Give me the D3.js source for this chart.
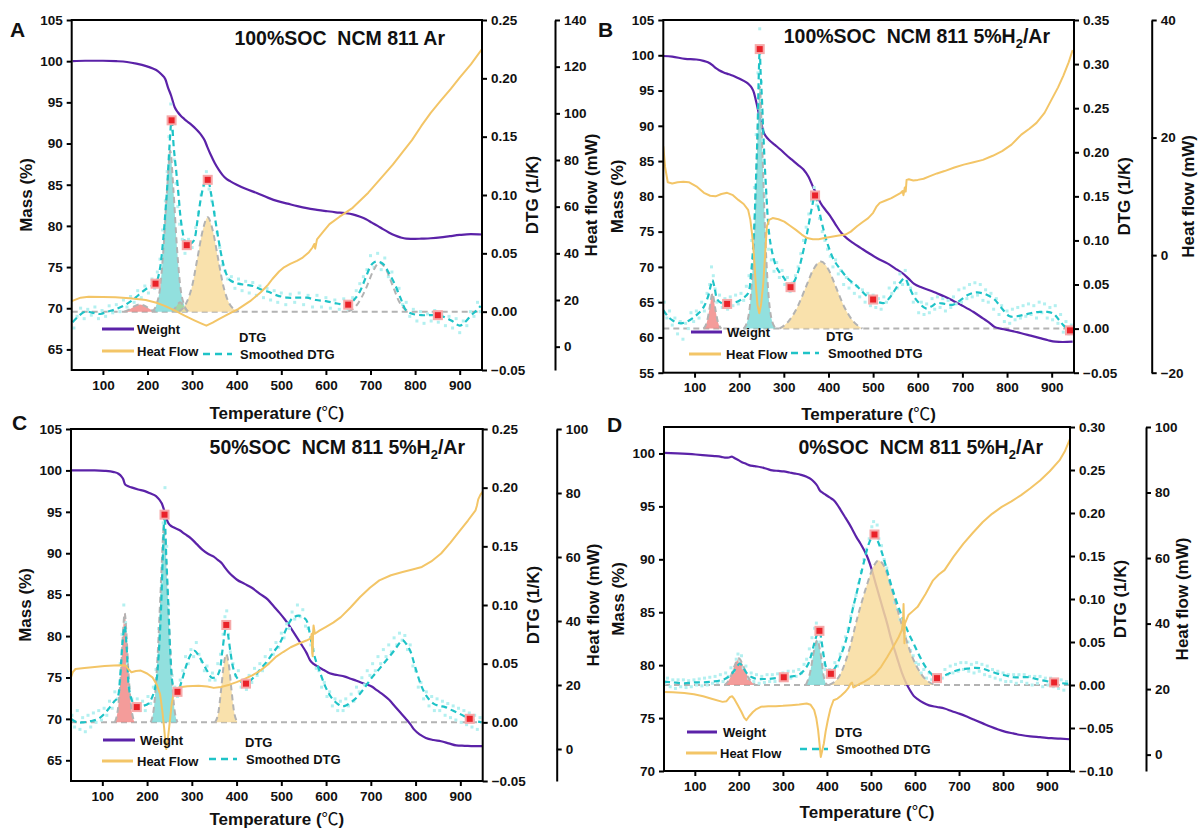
<!DOCTYPE html>
<html>
<head>
<meta charset="utf-8">
<script src="https://cdn.jsdelivr.net/npm/d3@7"></script>
<style>
  body { margin: 0; background: #fff; }
  svg { display: block; font-family: "Liberation Sans", Arial, "Noto Sans CJK SC", sans-serif; }
</style>
</head>
<body>
<svg id="chart" width="1200" height="833"></svg>
<script>
// ---------- shared ticks ----------
const temperatureTicks = [100, 200, 300, 400, 500, 600, 700, 800, 900];

// ---------- Panel A : 100%SOC NCM 811 Ar ----------
const massTicksA = [65, 70, 75, 80, 85, 90, 95, 100, 105];
const dtgTicksA = [-0.05, 0, 0.05, 0.10, 0.15, 0.20, 0.25];
const heatTicksA = [0, 20, 40, 60, 80, 100, 120, 140];
const weightA = [[32,100],[60,100.05],[100,100.05],[130,100.0],[154,99.9],[175,99.7],[197,99.4],[212,99.1],[223,98.8],[231,98.4],[240,97.8],[246,96.8],[253,95.8],[261,94.4],[268,93.8],[274,93.4],[282,93.0],[291,92.6],[300,92.2],[308,91.8],[315,91.4],[321,91.0],[328,90.4],[334,89.6],[342,88.6],[351,87.6],[360,86.8],[368,86.2],[377,85.7],[386,85.4],[400,85.0],[420,84.5],[445,84.0],[471,83.4],[492,83.0],[514,82.7],[536,82.4],[557,82.15],[580,81.95],[600,81.8],[622,81.65],[643,81.55],[660,81.4],[677,81.1],[690,80.8],[703,80.4],[716,80.0],[728,79.6],[741,79.2],[754,78.85],[767,78.6],[780,78.45],[800,78.42],[814,78.45],[835,78.5],[857,78.6],[878,78.75],[900,78.9],[925,79.0],[950,78.95]];
const heatA = [[30,19.5],[50,21.0],[68,21.4],[100,21.3],[128,21.2],[160,20.8],[196,20.0],[220,18.8],[240,17.4],[262,15.4],[283,13.3],[305,11.3],[320,10.0],[332,9.0],[346,10.3],[360,11.8],[380,13.8],[403,16.1],[430,19.5],[454,23.3],[470,26.5],[480,29.0],[495,32.2],[506,34.0],[520,35.5],[535,36.8],[548,38.2],[562,40.5],[570,42.5],[574,44.0],[576,42.0],[580,46.0],[595,49.5],[608,52.5],[630,55.6],[660,59.5],[695,66.0],[728,73.2],[750,78.0],[771,83.2],[793,88.5],[814,94.6],[835,100.2],[857,105.3],[880,110.5],[900,115.3],[925,121.0],[950,127.5]];
const smoothA = [[32,-0.009],[45,-0.004],[60,0.0],[78,-0.001],[94,-0.002],[110,0.0],[128,0.002],[146,0.005],[163,0.009],[176,0.013],[188,0.017],[203,0.021],[218,0.024],[227,0.035],[235,0.061],[240,0.085],[244,0.106],[249,0.14],[254,0.164],[259,0.14],[265,0.118],[270,0.098],[274,0.081],[281,0.064],[288,0.057],[296,0.058],[304,0.061],[312,0.078],[321,0.1],[328,0.11],[335,0.113],[343,0.1],[351,0.081],[360,0.06],[368,0.044],[376,0.033],[385,0.027],[395,0.025],[403,0.024],[420,0.023],[437,0.022],[455,0.019],[471,0.017],[490,0.014],[514,0.012],[535,0.012],[557,0.012],[578,0.01],[600,0.009],[625,0.007],[650,0.006],[665,0.011],[677,0.018],[690,0.03],[700,0.039],[707,0.042],[715,0.043],[728,0.041],[740,0.034],[754,0.024],[767,0.012],[780,0.001],[795,-0.002],[814,-0.003],[830,-0.003],[851,-0.003],[868,-0.005],[883,-0.008],[900,-0.012],[912,-0.009],[926,-0.003],[938,0.001],[947,0.005]];
const rawA = [[35,-0.014],[42,-0.004],[50,0.003],[58,-0.006],[66,0.002],[74,-0.003],[82,0.004],[90,-0.006],[98,0.001],[106,-0.004],[114,0.005],[122,-0.001],[130,0.006],[138,0.0],[146,0.01],[154,0.004],[162,0.013],[170,0.008],[178,0.018],[186,0.012],[194,0.022],[202,0.016],[210,0.028],[216,0.02],[222,0.034],[228,0.045],[234,0.07],[240,0.095],[244,0.12],[248,0.15],[252,0.178],[256,0.155],[260,0.13],[264,0.11],[268,0.09],[272,0.075],[278,0.062],[284,0.05],[292,0.062],[300,0.055],[308,0.072],[314,0.085],[320,0.1],[326,0.108],[332,0.12],[338,0.105],[344,0.095],[350,0.085],[356,0.068],[362,0.055],[368,0.04],[374,0.035],[380,0.028],[388,0.03],[396,0.02],[404,0.028],[412,0.018],[420,0.026],[428,0.016],[436,0.025],[444,0.014],[452,0.022],[460,0.012],[468,0.02],[476,0.01],[484,0.018],[492,0.008],[500,0.016],[510,0.006],[520,0.015],[530,0.008],[540,0.016],[550,0.006],[560,0.014],[570,0.004],[580,0.014],[590,0.004],[600,0.012],[610,0.003],[620,0.01],[630,0.002],[640,0.011],[650,0.002],[660,0.012],[668,0.018],[676,0.024],[684,0.03],[692,0.036],[700,0.048],[708,0.038],[716,0.05],[724,0.036],[732,0.046],[740,0.03],[748,0.034],[756,0.018],[764,0.02],[772,0.006],[780,0.008],[788,-0.004],[796,0.002],[804,-0.008],[812,0.0],[820,-0.01],[828,-0.002],[836,-0.008],[844,0.001],[852,-0.009],[860,-0.002],[868,-0.012],[876,-0.004],[884,-0.014],[892,-0.006],[900,-0.018],[908,-0.008],[916,-0.012],[924,0.0],[932,-0.004],[940,0.008],[946,0.0]];
const markersA = [[218,0.024],[254,0.164],[288,0.057],[335,0.113],[650,0.006],[851,-0.003]];
const peakRedA = [[148,0],[160,0.002],[170,0.0045],[183,0.0062],[196,0.0045],[206,0.002],[218,0]];
const peakCyanA = [[210,0],[220,0.006],[228,0.02],[236,0.055],[244,0.105],[251,0.138],[258,0.105],[266,0.055],[274,0.02],[282,0.006],[292,0]];
const peakGreenA = [[255,0],[262,0.003],[268,0.0065],[273,0.008],[278,0.0065],[284,0.003],[290,0]];
const peakYellowA = [[270,0],[285,0.006],[300,0.022],[312,0.046],[324,0.07],[335,0.081],[346,0.07],[358,0.046],[370,0.022],[385,0.006],[405,0]];
const peakOpenA = [[650,0],[670,0.006],[690,0.02],[705,0.034],[720,0.042],[735,0.036],[750,0.022],[765,0.008],[785,0]];

// ---------- Panel B : 100%SOC NCM 811 5%H2/Ar ----------
const massTicksB = [55, 60, 65, 70, 75, 80, 85, 90, 95, 100, 105];
const dtgTicksB = [-0.05, 0, 0.05, 0.10, 0.15, 0.20, 0.25, 0.30, 0.35];
const heatTicksB = [-20, 0, 20, 40];
const weightB = [[30,99.9],[50,99.8],[79,99.5],[104,99.4],[120,99.2],[130,99.0],[140,98.6],[147,98.2],[156,97.85],[164,97.6],[177,97.3],[190,97.0],[203,96.6],[215,96.2],[222,95.85],[228,95.4],[233,94.7],[237,93.7],[241,92.6],[245,91.4],[250,90.2],[254,89.2],[260,88.5],[267,88.0],[280,87.3],[293,86.6],[305,85.9],[318,85.2],[331,84.5],[344,83.8],[355,82.8],[365,81.4],[374,80.2],[382,79.1],[393,78.1],[404,77.2],[416,76.0],[429,74.8],[442,74.0],[455,73.4],[472,72.7],[489,72.0],[510,71.2],[532,70.5],[549,69.8],[566,69.1],[580,68.3],[592,67.6],[608,67.1],[626,66.7],[643,66.25],[660,65.8],[682,65.1],[703,64.4],[725,63.6],[746,62.7],[760,62.1],[772,61.5],[785,61.25],[797,61.1],[815,60.85],[832,60.6],[853,60.25],[874,59.9],[892,59.6],[908,59.4],[925,59.35],[947,59.4]];
const heatB = [[30,18.5],[34,15.0],[40,12.4],[50,12.2],[62,12.4],[75,12.5],[87,12.4],[104,11.7],[121,10.6],[135,10.1],[147,10.0],[160,10.4],[173,10.6],[186,10.2],[198,9.4],[210,8.7],[220,7.7],[225,6.0],[229,3.5],[233,0.0],[237,-4.8],[241,-8.5],[245,-9.9],[249,-8.4],[254,-4.8],[258,0.0],[262,4.9],[267,6.0],[275,6.3],[288,6.1],[301,5.7],[314,5.0],[327,4.3],[340,3.5],[352,2.9],[365,2.7],[378,2.7],[391,2.9],[404,3.1],[420,3.3],[438,3.5],[450,4.0],[464,4.9],[476,5.6],[489,6.3],[500,7.2],[508,8.3],[515,8.9],[528,9.3],[541,9.7],[555,10.3],[562,10.6],[566,10.9],[568,10.2],[571,11.5],[573,10.8],[575,12.8],[580,12.9],[590,12.7],[600,12.8],[613,13.0],[626,13.4],[643,13.9],[660,14.3],[682,14.9],[703,15.4],[725,15.8],[746,16.2],[768,16.9],[789,17.7],[810,18.8],[832,20.5],[850,21.5],[866,22.5],[884,24.2],[900,26.5],[914,28.5],[926,30.5],[938,32.8],[947,34.9]];
const smoothB = [[30,0.021],[40,0.014],[49,0.010],[60,0.007],[70,0.006],[83,0.008],[96,0.012],[110,0.018],[121,0.025],[130,0.036],[136,0.048],[140,0.055],[145,0.046],[151,0.033],[160,0.029],[173,0.028],[186,0.029],[198,0.031],[210,0.035],[220,0.04],[227,0.065],[233,0.108],[237,0.16],[241,0.222],[244,0.29],[246,0.317],[248,0.29],[251,0.26],[254,0.222],[260,0.16],[267,0.108],[275,0.084],[284,0.069],[293,0.062],[301,0.057],[308,0.051],[315,0.047],[323,0.053],[331,0.063],[340,0.08],[352,0.108],[362,0.135],[370,0.151],[378,0.136],[387,0.116],[398,0.096],[412,0.078],[430,0.065],[447,0.055],[460,0.05],[472,0.044],[486,0.037],[500,0.033],[512,0.03],[524,0.029],[537,0.035],[549,0.044],[560,0.052],[571,0.057],[581,0.047],[592,0.036],[605,0.028],[618,0.023],[630,0.025],[643,0.029],[660,0.028],[678,0.027],[695,0.032],[712,0.038],[730,0.041],[746,0.04],[760,0.037],[772,0.033],[790,0.022],[806,0.014],[822,0.014],[840,0.016],[857,0.018],[874,0.019],[890,0.019],[904,0.017],[916,0.01],[926,0.004],[941,-0.002]];
const rawB = [[32,0.03],[38,0.012],[44,0.02],[50,0.004],[56,0.012],[62,-0.006],[68,0.008],[74,-0.012],[80,0.006],[86,0.0],[92,0.018],[98,0.008],[104,0.02],[110,0.012],[116,0.03],[122,0.02],[128,0.04],[134,0.05],[138,0.07],[142,0.06],[146,0.045],[150,0.03],[156,0.038],[162,0.024],[168,0.034],[174,0.022],[180,0.036],[186,0.026],[192,0.038],[198,0.028],[204,0.04],[210,0.032],[216,0.048],[222,0.06],[228,0.1],[234,0.16],[238,0.22],[242,0.29],[246,0.34],[250,0.28],[254,0.2],[258,0.15],[262,0.11],[266,0.09],[272,0.078],[278,0.065],[284,0.075],[290,0.058],[296,0.066],[302,0.05],[308,0.058],[314,0.042],[320,0.052],[326,0.06],[332,0.07],[338,0.085],[344,0.1],[350,0.115],[356,0.13],[362,0.145],[368,0.16],[374,0.14],[380,0.125],[386,0.11],[392,0.1],[398,0.09],[404,0.082],[410,0.07],[416,0.078],[422,0.062],[428,0.066],[434,0.05],[440,0.058],[446,0.046],[452,0.052],[458,0.04],[464,0.048],[470,0.036],[476,0.044],[482,0.03],[488,0.04],[494,0.026],[500,0.038],[506,0.024],[512,0.034],[518,0.022],[524,0.036],[530,0.03],[536,0.046],[542,0.04],[548,0.052],[554,0.046],[560,0.062],[566,0.05],[572,0.066],[578,0.05],[584,0.046],[590,0.03],[596,0.04],[602,0.018],[608,0.03],[614,0.016],[620,0.028],[626,0.018],[632,0.034],[638,0.022],[644,0.036],[650,0.024],[656,0.034],[662,0.02],[668,0.032],[674,0.024],[680,0.036],[686,0.028],[692,0.044],[698,0.03],[704,0.046],[710,0.034],[716,0.05],[722,0.036],[728,0.052],[734,0.038],[740,0.05],[746,0.032],[752,0.044],[758,0.03],[764,0.04],[770,0.022],[776,0.034],[782,0.016],[788,0.026],[794,0.008],[800,0.02],[806,0.006],[812,0.022],[818,0.01],[824,0.024],[830,0.012],[836,0.026],[842,0.014],[848,0.028],[854,0.016],[860,0.026],[866,0.012],[872,0.03],[878,0.018],[884,0.028],[890,0.012],[896,0.024],[902,0.01],[908,0.026],[914,0.006],[920,0.016],[926,-0.004],[932,0.008],[938,-0.006],[944,0.004]];
const markersB = [[173,0.028],[246,0.317],[315,0.047],[370,0.151],[500,0.033],[941,-0.002]];
const peakRedB = [[120,0],[128,0.008],[134,0.024],[140,0.04],[146,0.024],[152,0.008],[160,0]];
const peakCyanB = [[210,0],[220,0.012],[228,0.05],[234,0.11],[240,0.2],[246,0.275],[252,0.2],[258,0.11],[264,0.05],[272,0.012],[282,0]];
const peakYellowB = [[290,0],[310,0.008],[330,0.024],[350,0.048],[366,0.067],[383,0.076],[400,0.067],[416,0.048],[436,0.024],[456,0.008],[476,0]];

// ---------- Panel C : 50%SOC NCM 811 5%H2/Ar ----------
const massTicksC = [65, 70, 75, 80, 85, 90, 95, 100, 105];
const dtgTicksC = [-0.05, 0, 0.05, 0.10, 0.15, 0.20, 0.25];
const heatTicksC = [0, 20, 40, 60, 80, 100];
const weightC = [[30,100.0],[60,100.0],[83,100.0],[105,99.95],[126,99.8],[136,99.6],[143,99.25],[147,98.9],[150,98.4],[155,98.15],[165,97.95],[180,97.7],[195,97.5],[208,97.2],[220,96.9],[227,96.5],[233,96.0],[238,95.2],[242,94.4],[246,93.8],[251,93.4],[260,93.1],[272,92.8],[285,92.3],[298,91.8],[311,91.1],[324,90.4],[337,89.9],[349,89.6],[358,89.2],[367,88.8],[375,88.2],[384,87.6],[392,87.2],[401,86.8],[418,86.3],[435,85.8],[452,85.1],[470,84.4],[483,83.6],[496,82.8],[508,82.0],[521,81.0],[534,79.9],[547,78.8],[556,78.0],[564,77.1],[573,76.6],[582,76.3],[595,75.9],[608,75.5],[625,75.3],[642,75.1],[655,74.85],[668,74.6],[685,74.25],[702,73.9],[715,73.4],[728,72.9],[741,72.3],[754,71.5],[767,70.7],[780,69.9],[789,69.3],[797,68.7],[810,68.1],[823,67.7],[840,67.45],[857,67.3],[874,67.05],[891,66.8],[910,66.75],[930,66.7],[950,66.7]];
const heatC = [[30,22.4],[34,24.0],[40,25.0],[60,25.3],[83,25.6],[105,25.9],[126,26.1],[140,26.2],[152,26.1],[158,25.0],[165,24.0],[175,24.4],[186,24.5],[200,23.6],[212,22.4],[222,20.0],[229,17.2],[234,12.0],[238,6.8],[241,2.0],[243,0.0],[246,2.5],[251,8.9],[255,14.0],[259,17.2],[265,18.6],[272,19.3],[290,19.6],[315,19.8],[335,19.5],[349,19.1],[365,19.4],[384,20.1],[400,20.9],[418,21.9],[435,23.0],[453,24.5],[470,26.4],[487,28.7],[504,30.3],[521,31.8],[538,32.9],[556,33.9],[566,34.6],[568,36.0],[569,30.0],[570,29.0],[571,36.5],[572,38.6],[575,36.0],[585,37.0],[599,38.1],[616,39.5],[633,41.2],[655,44.3],[676,47.5],[698,50.4],[719,52.7],[745,54.3],[771,55.3],[793,56.1],[814,56.9],[835,58.6],[857,61.1],[878,64.5],[900,68.4],[917,71.4],[934,74.6],[937,76.0],[940,78.0],[945,79.5],[950,80.4]];
const smoothC = [[30,0.003],[44,0.0],[57,0.0],[74,0.001],[91,0.003],[104,0.007],[117,0.013],[127,0.018],[134,0.021],[140,0.04],[145,0.068],[150,0.082],[155,0.06],[160,0.028],[168,0.017],[177,0.013],[190,0.014],[203,0.016],[212,0.022],[220,0.033],[226,0.058],[231,0.095],[235,0.14],[239,0.177],[243,0.14],[248,0.095],[252,0.058],[257,0.033],[262,0.027],[268,0.026],[278,0.036],[289,0.05],[298,0.058],[306,0.061],[315,0.057],[324,0.051],[334,0.044],[345,0.038],[355,0.039],[362,0.044],[368,0.06],[373,0.075],[377,0.083],[382,0.072],[387,0.058],[392,0.047],[398,0.04],[405,0.036],[413,0.034],[421,0.033],[432,0.036],[444,0.041],[457,0.047],[470,0.053],[483,0.06],[496,0.067],[508,0.077],[521,0.087],[530,0.09],[539,0.091],[547,0.09],[556,0.087],[564,0.075],[573,0.058],[586,0.043],[599,0.03],[612,0.021],[625,0.016],[634,0.014],[642,0.014],[655,0.017],[668,0.021],[685,0.029],[702,0.038],[720,0.046],[737,0.054],[754,0.062],[765,0.068],[771,0.07],[779,0.067],[788,0.061],[800,0.046],[814,0.03],[827,0.021],[840,0.016],[853,0.014],[866,0.013],[883,0.01],[900,0.007],[910,0.005],[921,0.003],[935,0.001],[947,0.0]];
const rawC = [[32,0.006],[38,-0.004],[44,0.01],[50,-0.006],[56,0.004],[62,-0.008],[68,0.006],[74,-0.004],[80,0.008],[86,0.0],[92,0.01],[98,0.002],[104,0.012],[110,0.006],[116,0.018],[122,0.012],[128,0.026],[134,0.02],[140,0.05],[144,0.075],[148,0.1],[152,0.085],[156,0.05],[160,0.03],[166,0.02],[172,0.012],[178,0.02],[184,0.01],[190,0.018],[196,0.01],[202,0.022],[208,0.016],[214,0.03],[220,0.045],[226,0.08],[232,0.12],[236,0.17],[240,0.2],[244,0.15],[248,0.1],[252,0.06],[256,0.04],[262,0.03],[268,0.022],[274,0.036],[280,0.044],[286,0.056],[292,0.05],[298,0.062],[304,0.056],[310,0.068],[316,0.058],[322,0.052],[328,0.044],[334,0.048],[340,0.036],[346,0.042],[352,0.036],[358,0.05],[364,0.058],[370,0.075],[374,0.09],[378,0.095],[382,0.075],[386,0.06],[392,0.05],[398,0.04],[404,0.044],[410,0.03],[416,0.036],[422,0.028],[428,0.04],[434,0.034],[440,0.046],[446,0.04],[452,0.05],[458,0.044],[464,0.056],[470,0.05],[476,0.062],[482,0.058],[488,0.068],[494,0.064],[500,0.076],[506,0.072],[512,0.084],[518,0.08],[524,0.094],[530,0.088],[536,0.1],[542,0.09],[548,0.096],[554,0.082],[560,0.08],[566,0.066],[572,0.062],[578,0.046],[584,0.044],[590,0.03],[596,0.034],[602,0.022],[608,0.026],[614,0.014],[620,0.02],[626,0.01],[632,0.018],[638,0.01],[644,0.02],[650,0.014],[656,0.024],[662,0.018],[668,0.03],[674,0.026],[680,0.038],[686,0.032],[692,0.044],[698,0.04],[704,0.05],[710,0.044],[716,0.056],[722,0.05],[728,0.062],[734,0.056],[740,0.066],[746,0.06],[752,0.072],[758,0.066],[764,0.076],[770,0.07],[776,0.074],[782,0.062],[788,0.066],[794,0.048],[800,0.044],[806,0.03],[812,0.034],[818,0.02],[824,0.026],[830,0.014],[836,0.022],[842,0.01],[848,0.02],[854,0.01],[860,0.018],[866,0.006],[872,0.016],[878,0.004],[884,0.014],[890,0.002],[896,0.012],[902,0.0],[908,0.01],[914,-0.002],[920,0.008],[926,-0.004],[932,0.006],[938,-0.006],[944,0.004]];
const markersC = [[177,0.013],[239,0.177],[268,0.026],[377,0.083],[421,0.033],[921,0.003]];
const peakRedC = [[128,0],[136,0.015],[142,0.045],[146,0.075],[150,0.093],[154,0.075],[158,0.045],[164,0.015],[172,0]];
const peakCyanC = [[208,0],[216,0.015],[224,0.06],[230,0.11],[238,0.167],[246,0.11],[252,0.06],[260,0.015],[268,0]];
const peakYellowC = [[352,0],[360,0.01],[366,0.03],[371,0.048],[377,0.058],[383,0.048],[388,0.03],[394,0.01],[402,0]];

// ---------- Panel D : 0%SOC NCM 811 5%H2/Ar ----------
const massTicksD = [70, 75, 80, 85, 90, 95, 100];
const dtgTicksD = [-0.10, -0.05, 0, 0.05, 0.10, 0.15, 0.20, 0.25, 0.30];
const heatTicksD = [0, 20, 40, 60, 80, 100];
const weightD = [[30,100.05],[60,100.0],[102,99.9],[125,99.82],[145,99.75],[160,99.68],[171,99.6],[178,99.62],[184,99.7],[188,99.62],[193,99.5],[200,99.35],[206,99.2],[215,99.05],[223,98.9],[236,98.8],[250,98.7],[263,98.55],[276,98.4],[290,98.35],[302,98.3],[315,98.2],[328,98.1],[341,97.98],[354,97.8],[363,97.6],[371,97.3],[378,96.95],[384,96.5],[390,96.3],[397,96.1],[406,95.85],[415,95.6],[423,95.2],[432,94.6],[441,94.0],[450,93.4],[458,92.8],[467,92.1],[476,91.5],[484,90.9],[493,90.1],[502,89.0],[510,87.8],[519,86.5],[528,85.2],[537,83.9],[545,82.6],[554,81.4],[563,80.2],[571,79.2],[580,78.3],[589,77.6],[597,77.1],[606,76.8],[619,76.45],[632,76.2],[650,76.05],[667,75.9],[684,75.65],[702,75.4],[720,75.1],[737,74.8],[754,74.5],[771,74.2],[789,73.92],[806,73.7],[823,73.55],[841,73.4],[862,73.28],[884,73.2],[910,73.1],[930,73.05],[952,73.0]];
const heatD = [[30,19.1],[50,19.0],[76,18.8],[98,18.4],[119,17.8],[140,17.0],[163,16.1],[172,16.3],[180,17.6],[185,17.8],[189,17.1],[197,15.2],[206,13.0],[212,11.3],[217,10.5],[224,11.8],[232,13.0],[240,13.9],[250,14.6],[267,14.8],[284,14.8],[300,14.9],[319,15.1],[337,15.3],[354,15.6],[363,15.2],[371,13.6],[376,11.0],[380,7.5],[383,3.5],[386,-0.7],[389,1.0],[393,3.4],[397,7.0],[402,10.5],[408,14.0],[415,16.6],[424,17.1],[432,18.0],[441,19.1],[448,20.2],[454,21.7],[457,22.0],[460,20.5],[463,20.7],[472,21.4],[484,22.2],[497,23.3],[510,24.7],[523,26.8],[537,29.8],[550,32.8],[563,35.9],[570,38.0],[573,41.0],[574,46.0],[575,40.0],[576,34.0],[577,40.0],[585,42.6],[595,43.8],[606,45.1],[624,49.0],[641,53.2],[654,55.0],[667,56.3],[688,60.5],[710,64.4],[732,67.8],[754,71.0],[775,73.5],[797,75.6],[819,77.3],[841,79.2],[862,81.3],[884,83.7],[906,86.5],[928,89.8],[940,92.5],[952,96.4]];
const smoothD = [[30,0.004],[50,0.003],[76,0.002],[98,0.003],[119,0.003],[140,0.004],[163,0.006],[175,0.009],[184,0.013],[193,0.019],[202,0.025],[210,0.02],[219,0.013],[230,0.009],[241,0.007],[255,0.007],[267,0.007],[285,0.008],[302,0.009],[320,0.01],[337,0.012],[348,0.017],[358,0.025],[365,0.036],[371,0.048],[377,0.058],[383,0.063],[388,0.05],[393,0.033],[398,0.02],[403,0.014],[409,0.013],[416,0.018],[424,0.025],[432,0.035],[441,0.048],[450,0.066],[458,0.087],[467,0.106],[476,0.126],[484,0.143],[493,0.161],[500,0.17],[508,0.175],[515,0.168],[523,0.157],[534,0.138],[545,0.118],[558,0.097],[571,0.079],[584,0.062],[597,0.048],[610,0.034],[624,0.021],[637,0.013],[650,0.008],[667,0.011],[684,0.015],[702,0.018],[719,0.019],[737,0.02],[754,0.019],[771,0.016],[789,0.013],[806,0.011],[823,0.009],[840,0.009],[858,0.009],[875,0.007],[893,0.005],[916,0.003],[935,0.002],[952,0.001]];
const rawD = [[32,0.002],[38,0.008],[44,-0.002],[50,0.006],[56,-0.004],[62,0.006],[68,-0.002],[74,0.006],[80,-0.003],[86,0.005],[92,-0.002],[98,0.006],[104,0.0],[110,0.007],[116,-0.001],[122,0.008],[128,0.0],[134,0.009],[140,0.002],[146,0.01],[152,0.003],[158,0.012],[164,0.004],[170,0.014],[176,0.01],[182,0.02],[188,0.016],[194,0.03],[198,0.036],[202,0.028],[206,0.034],[210,0.02],[216,0.022],[222,0.008],[228,0.014],[234,0.004],[240,0.012],[246,0.002],[252,0.01],[258,0.003],[264,0.012],[270,0.004],[276,0.012],[282,0.004],[288,0.013],[294,0.005],[300,0.014],[306,0.006],[312,0.016],[318,0.008],[324,0.016],[330,0.01],[336,0.018],[342,0.014],[348,0.024],[354,0.03],[360,0.042],[366,0.055],[372,0.066],[376,0.072],[380,0.06],[384,0.05],[388,0.036],[392,0.024],[396,0.018],[400,0.01],[406,0.018],[412,0.012],[418,0.026],[424,0.022],[430,0.036],[436,0.044],[442,0.056],[448,0.066],[454,0.08],[460,0.092],[466,0.104],[472,0.118],[478,0.132],[484,0.146],[490,0.158],[496,0.17],[502,0.184],[506,0.19],[510,0.178],[514,0.186],[518,0.17],[524,0.162],[530,0.146],[536,0.136],[542,0.12],[548,0.11],[554,0.096],[560,0.088],[566,0.076],[572,0.068],[578,0.056],[584,0.05],[590,0.04],[596,0.034],[602,0.026],[608,0.024],[614,0.014],[620,0.018],[626,0.008],[632,0.014],[638,0.006],[644,0.012],[650,0.004],[656,0.012],[662,0.008],[668,0.018],[674,0.012],[680,0.022],[686,0.014],[692,0.024],[698,0.016],[704,0.026],[710,0.018],[716,0.026],[722,0.016],[728,0.024],[734,0.014],[740,0.026],[746,0.016],[752,0.024],[758,0.012],[764,0.022],[770,0.01],[776,0.018],[782,0.008],[788,0.016],[794,0.006],[800,0.014],[806,0.004],[812,0.012],[818,0.004],[824,0.012],[830,0.002],[836,0.012],[842,0.004],[848,0.012],[854,0.002],[860,0.01],[866,0.0],[872,0.01],[878,0.002],[884,0.01],[890,-0.002],[896,0.008],[902,0.0],[908,0.008],[914,-0.002],[920,0.006],[926,-0.004],[932,0.006],[938,-0.006],[944,0.004]];
const markersD = [[302,0.009],[383,0.063],[409,0.013],[508,0.175],[650,0.008],[916,0.003]];
const peakRedD = [[168,0],[180,0.008],[190,0.022],[200,0.031],[210,0.022],[222,0.008],[238,0]];
const peakCyanD = [[352,0],[362,0.015],[370,0.038],[378,0.052],[386,0.035],[392,0.012],[400,0]];
const peakYellowD = [[405,0],[430,0.012],[450,0.04],[470,0.08],[490,0.115],[505,0.137],[517,0.145],[530,0.138],[548,0.11],[570,0.07],[592,0.035],[615,0.012],[645,0]];

// ---------- colours ----------
const C = {
  weight: "#5b22a8", heat: "#f3c567", smooth: "#1fc3c7", raw: "#b3f0f0",
  red: "#f28b88", cyan: "#7fdad8", yellow: "#f8dc9e", green: "#a4d49c",
  grey: "#b3b3b3", marker: "#ea2229", markerHalo: "#f6a9a9"
};

// ---------- panel layout ----------
const panels = [
  { letter: "A", letterXY: [10, 37],
    title: [["100%SOC  NCM 811 Ar"]], titleXY: [445, 50],
    box: { l: 71.7, t: 20, r: 482, b: 370 }, heatAxisX: 555, xTitleGap: 49,
    xDomain: [30, 950], massDomain: [62.5, 105], dtgDomain: [-0.05, 0.25], heatDomain: [-10, 140],
    massTicks: massTicksA, dtgTicks: dtgTicksA, heatTicks: heatTicksA,
    weight: weightA, heat: heatA, smooth: smoothA, raw: rawA, markers: markersA,
    peaks: [[peakRedA, C.red], [peakCyanA, C.cyan], [peakGreenA, C.green], [peakYellowA, C.yellow], [peakOpenA, null]],
    legend: { w: [102, 134, 329, 137], h: [102, 134, 351, 137], dtg: [239, 337], s: [203, 232, 354, 240] } },
  { letter: "B", letterXY: [598, 37],
    title: [["100%SOC  NCM 811 5%H"], ["2", "sub"], ["/Ar"]], titleXY: [1050, 48],
    box: { l: 663.3, t: 20, r: 1074, b: 372.7 }, heatAxisX: 1151.7, xTitleGap: 47,
    xDomain: [30, 950], massDomain: [55, 105], dtgDomain: [-0.05, 0.35], heatDomain: [-20, 40],
    massTicks: massTicksB, dtgTicks: dtgTicksB, heatTicks: heatTicksB,
    weight: weightB, heat: heatB, smooth: smoothB, raw: rawB, markers: markersB,
    peaks: [[peakRedB, C.red], [peakCyanB, C.cyan], [peakYellowB, C.yellow]],
    legend: { w: [691, 722, 332, 727], h: [689, 721, 354, 726], dtg: [826, 336], s: [791, 819, 353, 828] } },
  { letter: "C", letterXY: [12, 430],
    title: [["50%SOC  NCM 811 5%H"], ["2", "sub"], ["/Ar"]], titleXY: [465, 459],
    box: { l: 71, t: 429, r: 482.7, b: 781 }, heatAxisX: 556.7, xTitleGap: 44,
    xDomain: [30, 950], massDomain: [62.5, 105], dtgDomain: [-0.05, 0.25], heatDomain: [-10, 100],
    massTicks: massTicksC, dtgTicks: dtgTicksC, heatTicks: heatTicksC,
    weight: weightC, heat: heatC, smooth: smoothC, raw: rawC, markers: markersC,
    peaks: [[peakRedC, C.red], [peakCyanC, C.cyan], [peakYellowC, C.yellow]],
    legend: { w: [103, 135, 740, 140], h: [102, 133, 761, 137], dtg: [245, 742], s: [209, 237, 759, 246] } },
  { letter: "D", letterXY: [607, 432],
    title: [["0%SOC  NCM 811 5%H"], ["2", "sub"], ["/Ar"]], titleXY: [1043, 459],
    box: { l: 664, t: 427, r: 1070, b: 771 }, heatAxisX: 1146, xTitleGap: 47,
    xDomain: [30, 952], massDomain: [70, 102.5], dtgDomain: [-0.10, 0.30], heatDomain: [-5, 100],
    massTicks: massTicksD, dtgTicks: dtgTicksD, heatTicks: heatTicksD,
    weight: weightD, heat: heatD, smooth: smoothD, raw: rawD, markers: markersD,
    peaks: [[peakRedD, C.red], [peakCyanD, C.cyan], [peakYellowD, C.yellow]],
    legend: { w: [687, 717, 732, 723], h: [686, 717, 753, 720], dtg: [835, 732], s: [800, 828, 749, 836] } }
];

const svg = d3.select("#chart");
const fmtInt = d3.format("d");
const fmtDtg = d3.format(".2f");

function styleAxis(sel, keepDomain) {
  if (!keepDomain) sel.select(".domain").remove();
  else sel.select(".domain").attr("stroke", "#000").attr("stroke-width", 2);
  sel.selectAll(".tick line").attr("stroke", "#000").attr("stroke-width", 2);
  sel.selectAll(".tick text")
    .attr("font-size", 13.5).attr("font-weight", "bold").attr("fill", "#111")
    .attr("font-family", "'Liberation Sans', Arial, sans-serif");
}

function boldText(g, x, y, str, size, anchor) {
  return g.append("text").attr("x", x).attr("y", y)
    .attr("font-size", size).attr("font-weight", "bold").attr("fill", "#111")
    .attr("text-anchor", anchor || "start").text(str);
}

panels.forEach(p => {
  const g = svg.append("g").attr("class", "panel-" + p.letter);
  const b = p.box;
  const x = d3.scaleLinear().domain(p.xDomain).range([b.l, b.r]);
  const yM = d3.scaleLinear().domain(p.massDomain).range([b.b, b.t]);
  const yD = d3.scaleLinear().domain(p.dtgDomain).range([b.b, b.t]);
  const yH = d3.scaleLinear().domain(p.heatDomain).range([b.b, b.t]);

  const clipId = "clip-" + p.letter;
  g.append("clipPath").attr("id", clipId)
    .append("rect").attr("x", b.l).attr("y", b.t).attr("width", b.r - b.l).attr("height", b.b - b.t);
  const plot = g.append("g").attr("clip-path", `url(#${clipId})`);

  // zero baseline of the DTG peak fit
  plot.append("line")
    .attr("x1", b.l).attr("x2", b.r).attr("y1", yD(0)).attr("y2", yD(0))
    .attr("stroke", C.grey).attr("stroke-width", 2).attr("stroke-dasharray", "6,4");

  // mass curve
  const lineM = d3.line().x(d => x(d[0])).y(d => yM(d[1])).curve(d3.curveMonotoneX);
  plot.append("path").datum(p.weight).attr("d", lineM)
    .attr("fill", "none").attr("stroke", C.weight).attr("stroke-width", 2.2);

  // fitted DTG peaks
  const areaD = d3.area().x(d => x(d[0])).y0(yD(0)).y1(d => yD(d[1])).curve(d3.curveMonotoneX);
  const lineD = d3.line().x(d => x(d[0])).y(d => yD(d[1])).curve(d3.curveMonotoneX);
  p.peaks.forEach(([pts, col]) => {
    if (col) plot.append("path").datum(pts).attr("d", areaD).attr("fill", col).attr("fill-opacity", 0.85);
  });

  // raw DTG points
  plot.append("g").selectAll("rect").data(p.raw).join("rect")
    .attr("x", d => x(d[0]) - 1.5).attr("y", d => yD(d[1]) - 1.5)
    .attr("width", 3).attr("height", 3).attr("fill", C.raw);

  p.peaks.forEach(([pts]) => {
    plot.append("path").datum(pts).attr("d", lineD)
      .attr("fill", "none").attr("stroke", C.grey).attr("stroke-width", 2).attr("stroke-dasharray", "6,4");
  });

  // smoothed DTG
  const lineS = d3.line().x(d => x(d[0])).y(d => yD(d[1])).curve(d3.curveCatmullRom.alpha(0.5));
  plot.append("path").datum(p.smooth).attr("d", lineS)
    .attr("fill", "none").attr("stroke", C.smooth).attr("stroke-width", 2.2).attr("stroke-dasharray", "6,4");

  // heat flow
  const lineH = d3.line().x(d => x(d[0])).y(d => yH(d[1])).curve(d3.curveLinear);
  plot.append("path").datum(p.heat).attr("d", lineH)
    .attr("fill", "none").attr("stroke", C.heat).attr("stroke-width", 2).attr("stroke-linejoin", "round");

  // peak markers on the smoothed DTG
  const mk = plot.append("g");
  p.markers.forEach(d => {
    mk.append("rect").attr("x", x(d[0]) - 5).attr("y", yD(d[1]) - 5).attr("width", 10).attr("height", 10)
      .attr("fill", C.markerHalo);
    mk.append("rect").attr("x", x(d[0]) - 3).attr("y", yD(d[1]) - 3).attr("width", 6).attr("height", 6)
      .attr("fill", C.marker);
  });

  // frame
  g.append("rect").attr("x", b.l).attr("y", b.t).attr("width", b.r - b.l).attr("height", b.b - b.t)
    .attr("fill", "none").attr("stroke", "#000").attr("stroke-width", 2);

  // axes
  g.append("g").attr("transform", `translate(0,${b.b})`)
    .call(d3.axisBottom(x).tickValues(temperatureTicks).tickFormat(fmtInt).tickSize(5).tickPadding(5))
    .call(s => styleAxis(s, false));
  g.append("g").attr("transform", `translate(${b.l},0)`)
    .call(d3.axisLeft(yM).tickValues(p.massTicks).tickFormat(fmtInt).tickSize(5).tickPadding(4))
    .call(s => styleAxis(s, false));
  g.append("g").attr("transform", `translate(${b.r},0)`)
    .call(d3.axisRight(yD).tickValues(p.dtgTicks).tickFormat(fmtDtg).tickSize(5).tickPadding(4))
    .call(s => styleAxis(s, false));
  g.append("g").attr("transform", `translate(${p.heatAxisX},0)`)
    .call(d3.axisRight(yH).tickValues(p.heatTicks).tickFormat(fmtInt).tickSize(5).tickSizeOuter(0).tickPadding(4))
    .call(s => styleAxis(s, true));

  // axis titles
  const midY = (b.t + b.b) / 2;
  const rot = (cx, str) => g.append("text")
    .attr("transform", `translate(${cx},${midY}) rotate(-90)`)
    .attr("text-anchor", "middle").attr("dy", "0.35em")
    .attr("font-size", 17).attr("font-weight", "bold").attr("fill", "#111").text(str);
  rot(b.l - 46, "Mass (%)");
  rot(b.r + 50, "DTG (1/K)");
  rot(p.heatAxisX + 36, "Heat flow (mW)");
  const tx = boldText(g, (b.l + b.r) / 2, b.b + p.xTitleGap, "", 17, "middle");
  tx.append("tspan").text("Temperature (");
  tx.append("tspan").attr("font-family", "'Noto Sans CJK SC', sans-serif").attr("font-weight", "normal").text("℃");
  tx.append("tspan").text(")");

  // panel letter
  boldText(g, p.letterXY[0], p.letterXY[1], p.letter, 21);

  // panel title
  const tt = g.append("text").attr("x", p.titleXY[0]).attr("y", p.titleXY[1])
    .attr("text-anchor", "end").attr("font-size", 19.5).attr("font-weight", "bold").attr("fill", "#111")
    .style("white-space", "pre");
  p.title.forEach(([str, kind]) => {
    if (kind === "sub") tt.append("tspan").attr("font-size", 13).attr("dy", 5).text(str);
    else tt.append("tspan").attr("dy", tt.selectAll("tspan").size() ? -5 : 0).text(str);
  });

  // legend
  const L = p.legend;
  const lg = g.append("g").attr("font-size", 13).attr("font-weight", "bold").attr("fill", "#111");
  lg.append("line").attr("x1", L.w[0]).attr("x2", L.w[1]).attr("y1", L.w[2]).attr("y2", L.w[2])
    .attr("stroke", C.weight).attr("stroke-width", 3);
  lg.append("text").attr("x", L.w[3]).attr("y", L.w[2]).attr("dy", "0.35em").text("Weight");
  lg.append("line").attr("x1", L.h[0]).attr("x2", L.h[1]).attr("y1", L.h[2]).attr("y2", L.h[2])
    .attr("stroke", C.heat).attr("stroke-width", 3);
  lg.append("text").attr("x", L.h[3]).attr("y", L.h[2]).attr("dy", "0.35em").text("Heat Flow");
  lg.append("text").attr("x", L.dtg[0]).attr("y", L.dtg[1]).attr("dy", "0.35em").text("DTG");
  lg.append("line").attr("x1", L.s[0]).attr("x2", L.s[1]).attr("y1", L.s[2]).attr("y2", L.s[2])
    .attr("stroke", C.smooth).attr("stroke-width", 2.5).attr("stroke-dasharray", "7,5");
  lg.append("text").attr("x", L.s[3]).attr("y", L.s[2]).attr("dy", "0.35em").text("Smoothed DTG");
});
</script>
</body>
</html>
